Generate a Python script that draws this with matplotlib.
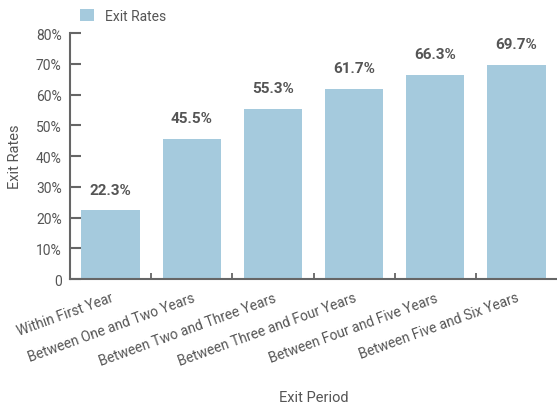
import matplotlib
matplotlib.use("Agg")
import matplotlib.pyplot as plt
from matplotlib.ticker import FixedLocator, FuncFormatter

categories = [
    "Within First Year",
    "Between One and Two Years",
    "Between Two and Three Years",
    "Between Three and Four Years",
    "Between Four and Five Years",
    "Between Five and Six Years",
]
exit_rates = [22.3, 45.5, 55.3, 61.7, 66.3, 69.7]
y_ticks = [0, 10, 20, 30, 40, 50, 60, 70, 80]

bar_color = "#a5cadd"
text_color = "#555555"
axis_color = "#666666"

plt.rcParams["font.family"] = ["Roboto", "DejaVu Sans"]

fig = plt.figure(figsize=(5.57, 4.10), dpi=100)
ax = fig.add_axes([0.1257, 0.317, 0.8743, 0.600])

x = list(range(len(categories)))
bars = ax.bar(x, exit_rates, width=0.72, color=bar_color, label="Exit Rates", zorder=2)

for xi, v in zip(x, exit_rates):
    ax.annotate(f"{v:.1f}%", (xi, v), xytext=(0, 10), textcoords="offset points",
                ha="center", va="bottom", fontsize=11, fontweight="bold",
                color=text_color)

ax.set_xlim(-0.5, len(categories) - 0.5)
ax.set_ylim(0, 80)

ax.yaxis.set_major_locator(FixedLocator(y_ticks))
ax.yaxis.set_major_formatter(FuncFormatter(lambda v, p: "0" if v == 0 else f"{v:.0f}%"))
ax.tick_params(axis="y", direction="in", length=8, width=1.5, colors=axis_color,
               labelcolor=text_color, labelsize=10, pad=6)

ax.set_xticks(x)
ax.set_xticklabels(categories, rotation=20, ha="right", rotation_mode="anchor",
                   fontsize=10, color=text_color)
ax.tick_params(axis="x", which="major", length=0, pad=8)
ax.set_xticks([i + 0.5 for i in x[:-1]], minor=True)
ax.tick_params(axis="x", which="minor", direction="in", length=4, width=1.3,
               colors=axis_color)

for side in ("top", "right"):
    ax.spines[side].set_visible(False)
for side in ("left", "bottom"):
    ax.spines[side].set_color(axis_color)
    ax.spines[side].set_linewidth(1.5)

ax.set_ylabel("Exit Rates", fontsize=10.5, color=text_color, labelpad=10)
ax.set_xlabel("Exit Period", fontsize=10.5, color=text_color)
ax.xaxis.set_label_coords(0.5, -0.45)

ax.legend(loc="lower left", bbox_to_anchor=(0.01, 1.02), frameon=False,
          fontsize=10, labelcolor=text_color, handlelength=1.0, handleheight=1.0,
          borderaxespad=0, handletextpad=0.8)

fig.savefig("out.png", dpi=100)
